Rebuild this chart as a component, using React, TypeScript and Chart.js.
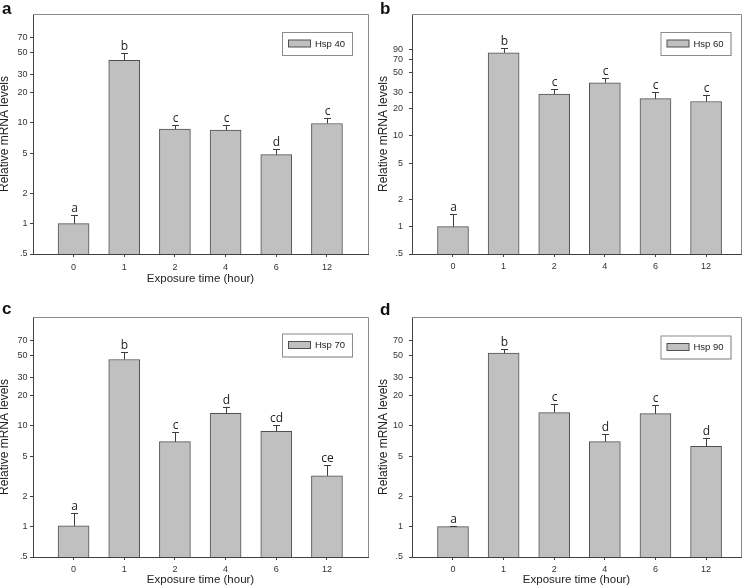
import React, { useEffect, useRef } from "react";
import { Chart, registerables } from "chart.js";

Chart.register(...registerables);

// ---------- data ----------
const categories = ["0", "1", "2", "4", "6", "12"];
const yTicksACD = [0.5, 1, 2, 5, 10, 20, 30, 50, 70];
const yTicksB = [0.5, 1, 2, 5, 10, 20, 30, 50, 70, 90];

const hsp40 = [1.0, 41.6, 8.67, 8.47, 4.84, 9.85];
const hsp40Err = [1.23, 49.4, 9.55, 9.42, 5.55, 11.2];
const hsp40Sig = ["a", "b", "c", "c", "d", "c"];

const hsp60 = [1.0, 82.3, 28.8, 38.5, 25.7, 23.9];
const hsp60Err = [1.39, 93.0, 33.1, 43.7, 30.6, 28.3];
const hsp60Sig = ["a", "b", "c", "c", "c", "c"];

const hsp70 = [1.02, 45.5, 6.96, 13.3, 8.84, 3.19];
const hsp70Err = [1.38, 53.6, 8.64, 15.25, 10.3, 4.05];
const hsp70Sig = ["a", "b", "c", "d", "cd", "ce"];

const hsp90 = [1.0, 52.5, 13.5, 6.96, 13.2, 6.27];
const hsp90Err = [1.02, 57.7, 16.5, 8.22, 16.0, 7.62];
const hsp90Sig = ["a", "b", "c", "d", "c", "d"];

const yTitle = "Relative mRNA levels";
const xTitle = "Exposure time (hour)";

const SANS = "'Liberation Sans', Arial, sans-serif";

type Panel = {
  letter: string;
  label: string;
  values: number[];
  err: number[];
  sig: string[];
  ticks: number[];
  yMax: number;
  left: number;
  top: number;
  padTop: number;
  yAxisW: number;
  xAxisH: number;
  xMin: number;
  xMax: number;
  showXTitle: boolean;
  yTickPad: number;
  yTitlePad: number;
  xTickPad: number;
  xTitlePadBottom: number;
  legendBox: { x: number; y: number; w: number; h: number };
  letterPos: { x: number; y: number };
};

const panels: Panel[] = [
  {
    letter: "a", label: "Hsp 40", values: hsp40, err: hsp40Err, sig: hsp40Sig,
    ticks: yTicksACD, yMax: 120, left: 0, top: 0, padTop: 14, yAxisW: 33, xAxisH: 40,
    xMin: -0.8, xMax: 5.81, showXTitle: true, yTickPad: 2.5, yTitlePad: -3, xTickPad: 5, xTitlePadBottom: 8,
    legendBox: { x: 282, y: 32, w: 70, h: 23 }, letterPos: { x: 2, y: 13.5 },
  },
  {
    letter: "b", label: "Hsp 60", values: hsp60, err: hsp60Err, sig: hsp60Sig,
    ticks: yTicksB, yMax: 220, left: 373, top: 0, padTop: 14, yAxisW: 39, xAxisH: 40,
    xMin: -0.81, xMax: 5.69, showXTitle: false, yTickPad: 6, yTitlePad: 3, xTickPad: 4, xTitlePadBottom: 8,
    legendBox: { x: 287.5, y: 32, w: 70, h: 23 }, letterPos: { x: 7, y: 13.5 },
  },
  {
    letter: "c", label: "Hsp 70", values: hsp70, err: hsp70Err, sig: hsp70Sig,
    ticks: yTicksACD, yMax: 120, left: 0, top: 294, padTop: 23, yAxisW: 33, xAxisH: 31,
    xMin: -0.8, xMax: 5.81, showXTitle: true, yTickPad: 2.5, yTitlePad: -3, xTickPad: 4, xTitlePadBottom: 1,
    legendBox: { x: 282, y: 39.5, w: 70, h: 23 }, letterPos: { x: 2, y: 20 },
  },
  {
    letter: "d", label: "Hsp 90", values: hsp90, err: hsp90Err, sig: hsp90Sig,
    ticks: yTicksACD, yMax: 120, left: 373, top: 294, padTop: 23, yAxisW: 39, xAxisH: 31,
    xMin: -0.81, xMax: 5.69, showXTitle: true, yTickPad: 6, yTitlePad: 3, xTickPad: 4, xTitlePadBottom: 1,
    legendBox: { x: 287.5, y: 41.5, w: 70, h: 23 }, letterPos: { x: 7, y: 20.5 },
  },
];

const annotPlugin = {
  id: "annot",
  afterDatasetsDraw(chart: any, _args: any, opts: any) {
    const { ctx, chartArea, scales } = chart;
    const xs = scales.x;
    const ys = scales.y;
    const p: Panel = opts.panel;
    ctx.save();

    // frame top & right
    ctx.strokeStyle = "#8a8a8a";
    ctx.lineWidth = 1;
    ctx.beginPath();
    ctx.moveTo(Math.round(chartArea.left), Math.round(chartArea.top) + 0.5);
    ctx.lineTo(Math.round(chartArea.right) + 0.5, Math.round(chartArea.top) + 0.5);
    ctx.lineTo(Math.round(chartArea.right) + 0.5, Math.round(chartArea.bottom));
    ctx.stroke();

    // error bars and significance letters
    p.values.forEach((v, i) => {
      const px = Math.round(xs.getPixelForValue(i)) + 0.5;
      const pTop = ys.getPixelForValue(v);
      const pErr = Math.round(ys.getPixelForValue(p.err[i])) + 0.5;
      ctx.strokeStyle = "#3c3c3c";
      ctx.lineWidth = 1;
      ctx.beginPath();
      ctx.moveTo(px, pTop);
      ctx.lineTo(px, pErr);
      ctx.moveTo(px - 3.5, pErr);
      ctx.lineTo(px + 3.5, pErr);
      ctx.stroke();
      ctx.fillStyle = "#222";
      ctx.font = "12px 'Open Sans', 'DejaVu Sans', sans-serif";
      ctx.textAlign = "center";
      ctx.textBaseline = "alphabetic";
      ctx.fillText(p.sig[i], px, pErr - 4);
    });

    // legend box
    const b = p.legendBox;
    ctx.fillStyle = "#d8d8d8";
    ctx.fillRect(b.x + 1, b.y + 1, b.w, b.h);
    ctx.fillStyle = "#ffffff";
    ctx.fillRect(b.x, b.y, b.w, b.h);
    ctx.strokeStyle = "#8c8c8c";
    ctx.strokeRect(b.x + 0.5, b.y + 0.5, b.w, b.h);
    const sy = b.y + b.h / 2;
    ctx.fillStyle = "#c0c0c0";
    ctx.fillRect(b.x + 6.5, sy - 3.5, 22, 7);
    ctx.strokeStyle = "#505050";
    ctx.strokeRect(b.x + 6.5, sy - 3.5, 22, 7);
    ctx.fillStyle = "#222";
    ctx.font = "9.5px " + SANS;
    ctx.textAlign = "left";
    ctx.textBaseline = "middle";
    ctx.fillText(chart.data.datasets[0].label, b.x + 33, sy + 0.5);

    // panel letter
    ctx.fillStyle = "#111";
    ctx.font = "bold 17px " + SANS;
    ctx.textAlign = "left";
    ctx.textBaseline = "alphabetic";
    ctx.fillText(p.letter, p.letterPos.x, p.letterPos.y);

    ctx.restore();
  },
};

function PanelChart({ p }: { p: Panel }) {
  const ref = useRef<HTMLCanvasElement | null>(null);
  useEffect(() => {
    if (!ref.current) return;
    const chart = new Chart(ref.current, {
      type: "bar",
      data: {
        datasets: [
          {
            label: p.label,
            data: p.values.map((v, i) => ({ x: i, y: v })),
            backgroundColor: "#c0c0c0",
            borderColor: "#505050",
            borderWidth: 1,
            borderSkipped: "bottom",
            barThickness: 31,
          },
        ],
      },
      options: {
        animation: false,
        responsive: false,
        devicePixelRatio: 1,
        layout: { padding: { top: p.padTop, right: 5, left: 0, bottom: 0 } },
        plugins: {
          legend: { display: false },
          tooltip: { enabled: false },
          annot: { panel: p },
        } as any,
        scales: {
          x: {
            type: "linear",
            offset: false,
            min: p.xMin,
            max: p.xMax,
            afterBuildTicks: (s: any) => {
              s.ticks = categories.map((_, i) => ({ value: i }));
            },
            afterFit: (s: any) => {
              s.height = p.xAxisH;
            },
            ticks: {
              callback: (v: any) => categories[Math.round(Number(v))] ?? "",
              font: { family: SANS, size: 9 },
              color: "#333",
              padding: p.xTickPad,
              maxRotation: 0,
              autoSkip: false,
            },
            grid: { display: true, offset: false, drawOnChartArea: false, drawTicks: true, tickLength: 3, color: "#404040" },
            border: { display: true, color: "#404040", width: 1 },
            title: {
              display: p.showXTitle,
              text: xTitle,
              font: { family: SANS, size: 11.5 },
              color: "#222",
              padding: { top: 0, bottom: p.xTitlePadBottom },
            },
          },
          y: {
            type: "logarithmic",
            min: 0.5,
            max: p.yMax,
            afterBuildTicks: (s: any) => {
              s.ticks = p.ticks.map((v) => ({ value: v }));
            },
            afterFit: (s: any) => {
              s.width = p.yAxisW;
            },
            ticks: {
              callback: (v: any) => (Number(v) === 0.5 ? ".5" : String(v)),
              font: { family: SANS, size: 9 },
              color: "#333",
              padding: p.yTickPad,
              autoSkip: false,
            },
            grid: { display: true, drawOnChartArea: false, drawTicks: true, tickLength: 3, color: "#404040" },
            border: { display: true, color: "#404040", width: 1 },
            title: {
              display: true,
              text: yTitle,
              font: { family: SANS, size: 12 },
              color: "#222",
              padding: { top: p.yTitlePad, bottom: 0 },
            },
          },
        },
      } as any,
      plugins: [annotPlugin],
    });
    return () => chart.destroy();
  }, [p]);
  return (
    <canvas
      ref={ref}
      width={373}
      height={294}
      style={{ position: "absolute", left: p.left, top: p.top, width: 373, height: 294 }}
    />
  );
}

export default function App() {
  return (
    <div style={{ position: "absolute", left: 0, top: 0, width: 747, height: 588, background: "#fff" }}>
      {panels.map((p) => (
        <PanelChart key={p.letter} p={p} />
      ))}
    </div>
  );
}
